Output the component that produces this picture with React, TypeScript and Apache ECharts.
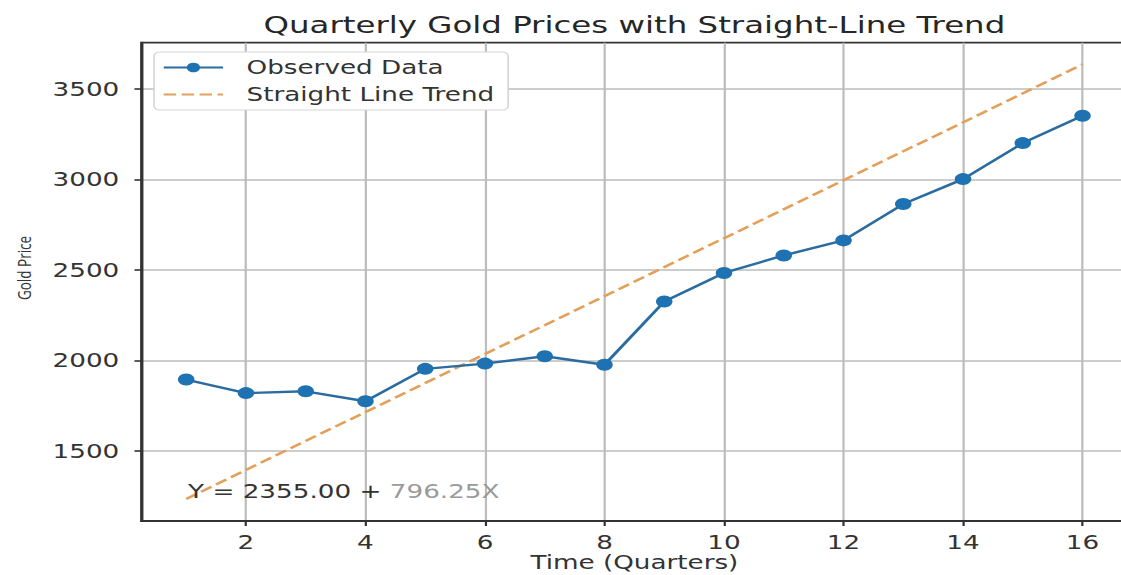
import React, { useEffect, useRef } from "react";
import * as echarts from "echarts";

const quarters = [1, 2, 3, 4, 5, 6, 7, 8, 9, 10, 11, 12, 13, 14, 15, 16];
const goldPrices = [1895, 1820, 1830, 1775, 1954, 1983, 2024, 1977, 2326, 2484, 2581, 2664, 2865, 3003, 3202, 3353];
const trendX = [1, 16];
const trendY = [1235, 3637];
const xTicks = [2, 4, 6, 8, 10, 12, 14, 16];
const yTicks = [1500, 2000, 2500, 3000, 3500];
const xRange = [0.25, 16.75];
const yRange = [1113, 3757];

const STRETCH = 1121 / 812;
const W = 840;
const H = 575;
const FONT = "DejaVu Sans";

export default function App() {
  const ref = useRef<HTMLDivElement>(null);
  useEffect(() => {
    document.body.style.margin = "0";
    document.body.style.overflow = "hidden";
    const chart = echarts.init(ref.current!, null, { renderer: "svg" });
    const axisCommon = {
      axisLine: { show: true, lineStyle: { color: "#333", width: 1.8 } },
      axisTick: { show: true, length: 5, lineStyle: { color: "#333", width: 1.6 } },
      splitLine: { show: true, lineStyle: { color: "#bcbcbc", width: 1.6 } },
    };
    chart.setOption({
      animation: false,
      backgroundColor: "#ffffff",
      grid: {
        left: 102.4,
        top: 42.7,
        width: 714.2,
        height: 478.3,
        outerBoundsMode: "none",
        containLabel: false,
        show: true,
        borderColor: "#333",
        borderWidth: 1.8,
        backgroundColor: "transparent",
      },
      xAxis: {
        type: "value",
        min: xRange[0],
        max: xRange[1],
        ...axisCommon,
        axisTick: { ...axisCommon.axisTick, customValues: xTicks },
        axisLabel: {
          customValues: xTicks,
          margin: 11.5,
          fontFamily: FONT,
          fontSize: 19,
          color: "#333",
        },
      },
      yAxis: {
        type: "value",
        min: yRange[0],
        max: yRange[1],
        ...axisCommon,
        axisTick: { ...axisCommon.axisTick, customValues: yTicks },
        axisLabel: {
          customValues: yTicks,
          margin: 16,
          fontFamily: FONT,
          fontSize: 19,
          color: "#333",
          formatter: (v: number) => String(v),
        },
      },
      legend: {
        orient: "vertical",
        left: 111.6,
        top: 52,
        padding: [6, 10, 6, 6],
        itemGap: 8,
        itemWidth: 43,
        itemHeight: 12,
        backgroundColor: "#ffffff",
        borderColor: "#d6d6d6",
        borderWidth: 1.2,
        borderRadius: 4,
        textStyle: { fontFamily: FONT, fontSize: 19, color: "#333", padding: [0, 0, 0, 12] },
        data: [
          { name: "Observed Data" },
          { name: "Straight Line Trend", itemStyle: { opacity: 0 } },
        ],
      },
      series: [
        {
          name: "Observed Data",
          type: "line",
          data: quarters.map((q, i) => [q, goldPrices[i]]),
          symbol: "circle",
          symbolSize: 12,
          lineStyle: { color: "#2a6c9f", width: 2.4 },
          itemStyle: { color: "#1f72b2" },
          z: 3,
        },
        {
          name: "Straight Line Trend",
          type: "line",
          data: trendX.map((x, i) => [x, trendY[i]]),
          symbol: "none",
          lineStyle: { color: "#e3a05a", width: 2.4, type: [9, 4] },
          itemStyle: { color: "#e3a05a" },
          z: 2,
        },
      ],
      graphic: [
        {
          type: "text",
          x: 459.5,
          y: 25,
          style: {
            text: "Quarterly Gold Prices with Straight-Line Trend",
            fontFamily: FONT,
            fontSize: 23.5,
            fill: "#262626",
            align: "center",
            verticalAlign: "middle",
          },
        },
        {
          type: "text",
          x: 459.5,
          y: 562,
          style: {
            text: "Time (Quarters)",
            fontFamily: FONT,
            fontSize: 19,
            fill: "#333",
            align: "center",
            verticalAlign: "middle",
          },
        },
        {
          type: "text",
          x: 17.4,
          y: 268,
          rotation: Math.PI / 2,
          style: {
            text: "Gold Price",
            fontFamily: "Open Sans",
            fontSize: 13.5,
            fill: "#333",
            align: "center",
            verticalAlign: "middle",
          },
        },
        {
          type: "text",
          x: 136.2,
          y: 491,
          z: 10,
          style: {
            text: "{a|Y = 2355.00 + }{b|796.25X}",
            verticalAlign: "middle",
            align: "left",
            rich: {
              a: { fontFamily: FONT, fontSize: 19, fill: "#333", color: "#333" },
              b: { fontFamily: FONT, fontSize: 19, fill: "#9a9a9a", color: "#9a9a9a" },
            },
          },
        },
      ],
    });
    return () => chart.dispose();
  }, []);
  return (
    <div
      ref={ref}
      style={{
        width: W,
        height: H,
        transform: `scaleX(${STRETCH})`,
        transformOrigin: "0 0",
      }}
    />
  );
}
